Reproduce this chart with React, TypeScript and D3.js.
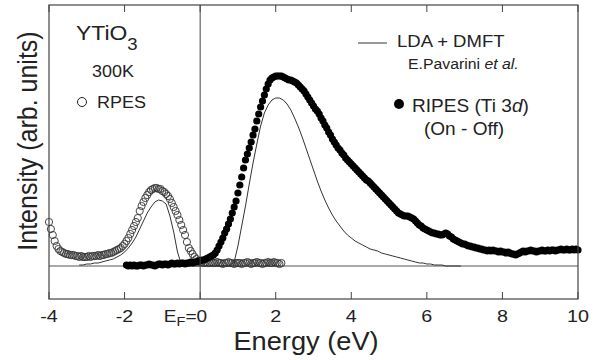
import React from 'react';
import * as d3 from 'd3';

// Energy axis ticks (eV)
const ENERGY_TICKS = [-4, -2, 0, 2, 4, 6, 8, 10];

// RIPES (Ti 3d), On - Off, sampled every 0.05 eV from -1.95 eV
const RIPES_START = -1.95;
const RIPES_STEP = 0.05;
const ripesIntensity = [
  1, 0, 1, 0, 1, 0, 0, 1, 1, 0, 1, 1, 2, 1, 1, 0, 1, 2, 2, 1,
  2, 2, 1, 2, 3, 2, 2, 3, 2, 3, 3, 2, 3, 3, 4, 3, 4, 4, 5, 5,
  6, 6, 7, 8, 9, 10, 11, 13, 16, 20, 24, 28, 33, 37, 42, 47, 53, 59, 65, 73,
  81, 89, 98, 106, 112, 118, 124, 131, 137, 145, 152, 159, 165, 171, 177, 182, 186, 188, 189, 190,
  190, 190, 190, 189, 188, 187, 186, 186, 185, 184, 183, 181, 179, 177, 175, 172, 169, 166, 163, 160,
  157, 155, 152, 148, 145, 141, 138, 134, 131, 127, 124, 121, 118, 116, 113, 111, 108, 106, 104, 102,
  100, 98, 96, 94, 92, 90, 88, 86, 85, 83, 81, 79, 77, 75, 73, 71, 69, 67, 65, 63,
  61, 59, 57, 55, 53, 52, 51, 50, 50, 50, 49, 48, 47, 45, 43, 41, 40, 38, 37, 36,
  35, 34, 33, 33, 32, 32, 31, 31, 32, 33, 32, 30, 29, 27, 26, 25, 24, 23, 22, 22,
  21, 20, 20, 19, 19, 18, 18, 17, 17, 16, 16, 15, 16, 15, 16, 15, 15, 14, 15, 14,
  14, 13, 14, 13, 12, 12, 11, 12, 13, 14, 15, 14, 15, 15, 16, 15, 15, 14, 15, 15,
  16, 15, 15, 16, 15, 16, 16, 15, 16, 16, 17, 16, 16, 17, 16, 16, 17, 16, 17, 16,
];

// RPES (valence band), sampled every 0.05 eV from -4.00 eV
const RPES_START = -4.0;
const RPES_STEP = 0.05;
const rpesIntensity = [
  44, 37, 31, 25, 20, 17, 15, 14, 13, 12, 12, 11, 11, 11, 10, 10, 9, 10, 9, 9,
  9, 10, 9, 10, 10, 10, 11, 10, 11, 11, 12, 12, 13, 13, 14, 15, 16, 17, 18, 20,
  22, 25, 28, 32, 36, 40, 44, 48, 55, 60, 64, 68, 71, 74, 76, 77, 78, 78, 77, 77,
  75, 74, 72, 70, 67, 63, 59, 55, 51, 46, 41, 36, 31, 24, 18, 15, 12, 9, 7, 5,
  4, 4, 3, 4, 3, 3, 4, 3, 3, 4, 3, 3, 2, 3, 3, 4, 3, 3, 2, 3,
  3, 3, 2, 3, 3, 4, 3, 2, 3, 3, 4, 3, 3, 2, 3, 3, 4, 3, 3, 4,
  3, 3, 2, 3,
];

// LDA + DMFT spectral function, sampled every 0.1 eV from -3.2 eV
const DMFT_START = -3.2;
const DMFT_STEP = 0.1;
const dmftIntensity = [
  1, 1, 2, 2, 3, 3, 4, 5, 6, 7,
  9, 11, 14, 18, 23, 29, 37, 45, 53, 59,
  64, 66, 65, 62, 50, 34, 14, 2, 0, 0,
  0, 0, 0, 0, 0, 0, 0, 0, 0, 0,
  0, 4, 20, 40, 60, 82, 103, 122, 140, 153,
  161, 166, 168, 168, 166, 162, 156, 148, 139, 129,
  118, 107, 96, 85, 75, 66, 58, 51, 45, 40,
  35, 31, 28, 25, 23, 21, 19, 17, 16, 15,
  13, 12, 11, 10, 9, 8, 7, 6, 5, 4,
  3, 3, 2, 2, 1, 1, 1, 0, 0, 0,
  0, 0,
];

const W = 605;
const H = 360;
const PLOT = { left: 49, right: 578, top: 5, bottom: 299 };
const FONT = '"Liberation Sans", Arial, Helvetica, sans-serif';
const TEXT = '#222';
const AXIS = '#444';
const SX = 1.09;

type Pt = { e: number; v: number };
const toPoints = (start: number, step: number, vals: number[]): Pt[] =>
  vals.map((v, i) => ({ e: +(start + i * step).toFixed(3), v }));

const ripes = toPoints(RIPES_START, RIPES_STEP, ripesIntensity);
const rpes = toPoints(RPES_START, RPES_STEP, rpesIntensity);
const dmft = toPoints(DMFT_START, DMFT_STEP, dmftIntensity);

const x = d3.scaleLinear().domain([-4, 10]).range([PLOT.left, PLOT.right]);
const y = d3.scaleLinear().domain([-33, 261]).range([PLOT.bottom, PLOT.top]);

function Label(props: {
  x: number;
  y: number;
  size: number;
  anchor?: 'start' | 'middle' | 'end';
  sx?: number;
  children: React.ReactNode;
}) {
  const { anchor = 'start', sx = SX } = props;
  return (
    <text
      transform={`translate(${props.x},${props.y}) scale(${sx},1)`}
      fontSize={props.size}
      textAnchor={anchor}
      fill={TEXT}
      fontFamily={FONT}
    >
      {props.children}
    </text>
  );
}

export default function App() {
  const line = d3
    .line<Pt>()
    .x((d) => x(d.e))
    .y((d) => y(d.v));

  return (
    <svg
      width={W}
      height={H}
      viewBox={`0 0 ${W} ${H}`}
      style={{ position: 'absolute', left: 0, top: 0, background: '#fff' }}
    >
      {/* zero-intensity reference line */}
      <line x1={PLOT.left} x2={PLOT.right} y1={y(0)} y2={y(0)} stroke="#555" strokeWidth={1} />

      {/* RPES open circles */}
      <g fill="none" stroke="#333" strokeWidth={0.9}>
        {rpes.map((d, i) => (
          <circle key={i} cx={x(d.e)} cy={y(d.v)} r={3.6} />
        ))}
      </g>

      {/* LDA + DMFT curve */}
      <path d={line(dmft) || ''} fill="none" stroke="#333" strokeWidth={1} />

      {/* RIPES filled dots */}
      <g fill="#000">
        {ripes.map((d, i) => (
          <circle key={i} cx={x(d.e)} cy={y(d.v)} r={3.6} />
        ))}
      </g>

      {/* Fermi level */}
      <line x1={x(0)} x2={x(0)} y1={PLOT.top} y2={PLOT.bottom} stroke={AXIS} strokeWidth={1} />

      {/* frame */}
      <rect
        x={PLOT.left}
        y={PLOT.top}
        width={PLOT.right - PLOT.left}
        height={PLOT.bottom - PLOT.top}
        fill="none"
        stroke={AXIS}
        strokeWidth={1.2}
      />

      {/* ticks, bottom and mirrored on top */}
      {ENERGY_TICKS.map((t) => (
        <g key={t} stroke={AXIS} strokeWidth={1}>
          <line x1={x(t)} x2={x(t)} y1={PLOT.bottom} y2={PLOT.bottom - 7} />
          <line x1={x(t)} x2={x(t)} y1={PLOT.top} y2={PLOT.top + 7} />
        </g>
      ))}

      {/* tick labels */}
      {ENERGY_TICKS.filter((t) => t !== 0).map((t) => (
        <Label key={t} x={x(t)} y={322} size={17} sx={1.16} anchor="middle">
          {String(t)}
        </Label>
      ))}
      <Label x={x(0) + 7} y={322} size={17} sx={1.12} anchor="end">
        E<tspan fontSize={13} dy={4}>F</tspan>
        <tspan dy={-4}>=0</tspan>
      </Label>

      {/* axis titles */}
      <Label x={306} y={350} size={25} anchor="middle">
        Energy (eV)
      </Label>
      <text
        transform={`translate(37,141) scale(${SX},1) rotate(-90)`}
        fontSize={25}
        textAnchor="middle"
        fill={TEXT}
        fontFamily={FONT}
      >
        Intensity (arb. units)
      </text>

      {/* sample annotation */}
      <Label x={76} y={40} size={21}>
        YTiO<tspan fontSize={17} dy={10}>3</tspan>
      </Label>
      <Label x={113} y={77} size={16.5} anchor="middle">
        300K
      </Label>
      <circle cx={82} cy={102} r={4.5} fill="none" stroke="#222" strokeWidth={1} />
      <Label x={97} y={108} size={16.5}>
        RPES
      </Label>

      {/* theory legend */}
      <line x1={358} x2={387} y1={43} y2={43} stroke="#333" strokeWidth={1} />
      <Label x={397} y={47} size={17}>
        LDA + DMFT
      </Label>
      <Label x={408} y={69} size={14.5}>
        E.Pavarini <tspan fontStyle="italic">et al.</tspan>
      </Label>

      {/* RIPES legend */}
      <circle cx={399} cy={104} r={5} fill="#000" />
      <Label x={412} y={112} size={17.5}>
        RIPES (Ti 3<tspan fontStyle="italic">d</tspan>)
      </Label>
      <Label x={464} y={135} size={17.5} anchor="middle">
        (On - Off)
      </Label>
    </svg>
  );
}
